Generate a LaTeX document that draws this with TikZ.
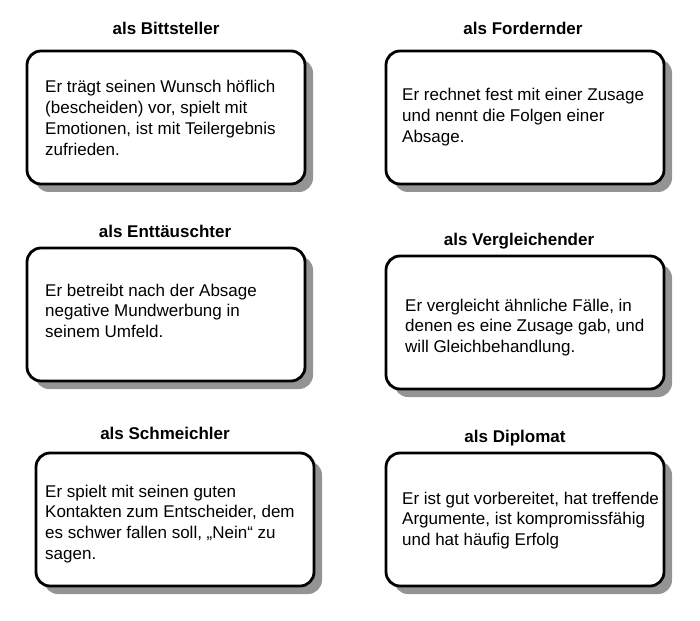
\documentclass[tikz,border=0pt]{standalone}
\usepackage{fontspec}
\setmainfont{Liberation Sans}
\usetikzlibrary{shadows}
\newcommand\cardtext[1]{\parbox[t]{300pt}{\fontsize{17}{20.7}\selectfont\raggedright #1}}
\begin{document}
\begin{tikzpicture}[x=1pt,y=-1pt,
  card/.style={draw=black, line width=2.8pt, rounded corners=14pt, fill=white,
    minimum width=278pt, minimum height=133pt, inner sep=0pt,
    drop shadow={shadow xshift=8pt, shadow yshift=-8pt, fill=black!42, opacity=1}},
  title/.style={font=\fontsize{17}{20}\selectfont\bfseries, anchor=base, inner sep=0pt},
  body/.style={anchor=base west, inner sep=0pt}]
\useasboundingbox (0,0) rectangle (700,620);
% boxes
\node[card] (b1) at (166,117.5) {};
\node[card] (b2) at (525,117.5) {};
\node[card] (b3) at (166,314.5) {};
\node[card] (b4) at (525,322.5) {};
\node[card] (b5) at (175,519.5) {};
\node[card] (b6) at (525,519.5) {};
% titles
\node[title] (t1) at (166,35) {als Bittsteller};
\node[title] (t2) at (523,35) {als Fordernder};
\node[title] (t3) at (165,237) {als Enttäuschter};
\node[title] (t4) at (519,245) {als Vergleichender};
\node[title] (t5) at (165,439) {als Schmeichler};
\node[title] (t6) at (515,442) {als Diplomat};
% texts
\node[body] (x1) at (45,93) {\cardtext{Er trägt seinen Wunsch höflich\\(bescheiden) vor, spielt mit\\Emotionen, ist mit Teilergebnis\\zufrieden.}};
\node[body] (x2) at (402,101) {\cardtext{Er rechnet fest mit einer Zusage\\und nennt die Folgen einer\\Absage.}};
\node[body] (x3) at (45,296) {\cardtext{Er betreibt nach der Absage\\negative Mundwerbung in\\seinem Umfeld.}};
\node[body] (x4) at (405,311) {\cardtext{Er vergleicht ähnliche Fälle, in\\denen es eine Zusage gab, und\\will Gleichbehandlung.}};
\node[body] (x5) at (45,497) {\cardtext{Er spielt mit seinen guten\\Kontakten zum Entscheider, dem\\es schwer fallen soll, „Nein“ zu\\sagen.}};
\node[body] (x6) at (402,504) {\cardtext{Er ist gut vorbereitet, hat treffende\\Argumente, ist kompromissfähig\\und hat häufig Erfolg}};
\end{tikzpicture}
\end{document}
